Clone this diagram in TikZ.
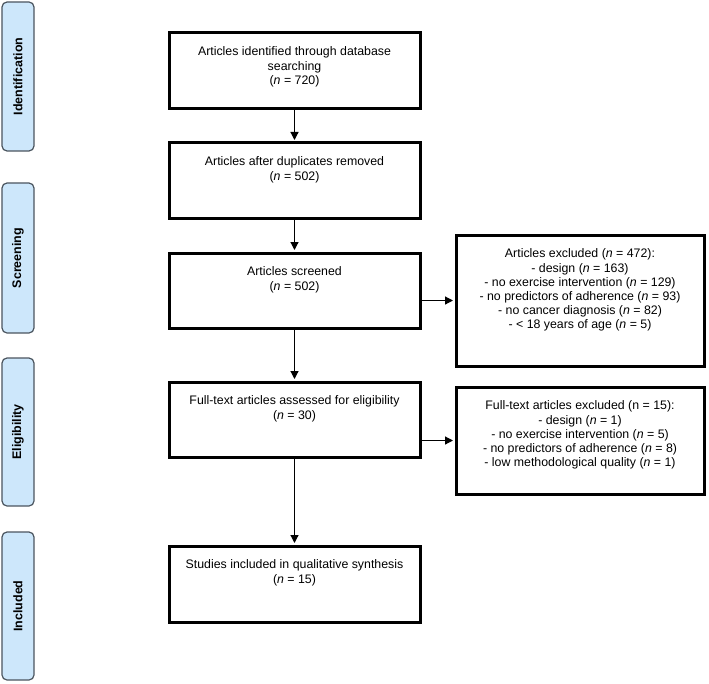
\documentclass[tikz,border=0pt]{standalone}
\usepackage{fontspec}
\setmainfont{Liberation Sans}
\usetikzlibrary{arrows.meta}
\definecolor{stagefill}{RGB}{205,231,251}
\definecolor{stageline}{RGB}{75,85,95}
% text of a box, set from its top edge
\newcommand{\boxtext}[2]{\parbox[c][#1][t]{240bp}{\centering #2}}

\begin{document}
\begin{tikzpicture}[x=1bp, y=-1bp,
  every node/.style = {font=\fontsize{12.4}{14.2}\selectfont},
  stagebox/.style = {draw=stageline, fill=stagefill, line width=1.2bp, rounded corners=5bp,
    rotate=90, minimum height=32bp, inner sep=0pt, font=\fontsize{12.5}{14}\selectfont\bfseries},
  mainbox/.style = {draw, line width=3bp, minimum width=251bp, inner xsep=0pt, inner ysep=14bp},
  exclbox/.style = {draw, line width=3bp, minimum width=248bp, inner xsep=0pt, inner ysep=14bp},
  arrow/.style = {line width=1.2bp, -{Triangle[length=8bp, width=8bp]}, shorten >=1.5bp}]
\useasboundingbox (0,0) rectangle (709,684);

% stages on the left
\node[stagebox, minimum width=149bp] (stident) at (18,76.5) {Identification};
\node[stagebox, minimum width=150bp] (stscreen) at (18,258) {Screening};
\node[stagebox, minimum width=148bp] (stelig) at (18,432) {Eligibility};
\node[stagebox, minimum width=148bp] (stincl) at (18,606) {Included};

% main column
\node[mainbox] (ident) at (294.5,70.5) {\boxtext{47bp}{Articles identified through database\\searching\\(\textit{n} = 720)}};
\node[mainbox] (dupl) at (294.5,180.5) {\boxtext{47bp}{Articles after duplicates removed\\(\textit{n} = 502)}};
\node[mainbox] (screen) at (294.5,290.5) {\boxtext{47bp}{Articles screened\\(\textit{n} = 502)}};
\node[mainbox] (fulltext) at (294.5,419.5) {\boxtext{47bp}{Full-text articles assessed for eligibility\\(\textit{n} = 30)}};
\node[mainbox] (incl) at (294.5,584) {\boxtext{48bp}{Studies included in qualitative synthesis\\(\textit{n} = 15)}};

% exclusions
\node[exclbox] (exclscreen) at (580,300.5) {\boxtext{103bp}{Articles excluded (\textit{n} = 472):\\- design (\textit{n} = 163)\\- no exercise intervention (\textit{n} = 129)\\- no predictors of adherence (\textit{n} = 93)\\- no cancer diagnosis (\textit{n} = 82)\\- < 18 years of age (\textit{n} = 5)}};
\node[exclbox] (exclfull) at (580,440.5) {\boxtext{79bp}{Full-text articles excluded (n = 15):\\- design (\textit{n} = 1)\\- no exercise intervention (\textit{n} = 5)\\- no predictors of adherence (\textit{n} = 8)\\- low methodological quality (\textit{n} = 1)}};

% arrows
\draw[arrow] (ident) -- (dupl);
\draw[arrow] (dupl) -- (screen);
\draw[arrow] (screen) -- (fulltext);
\draw[arrow] (fulltext) -- (incl);
\draw[arrow] (exclscreen.west -| screen.east) -- (exclscreen.west);
\draw[arrow] (exclfull.west -| fulltext.east) -- (exclfull.west);
\end{tikzpicture}
\end{document}
